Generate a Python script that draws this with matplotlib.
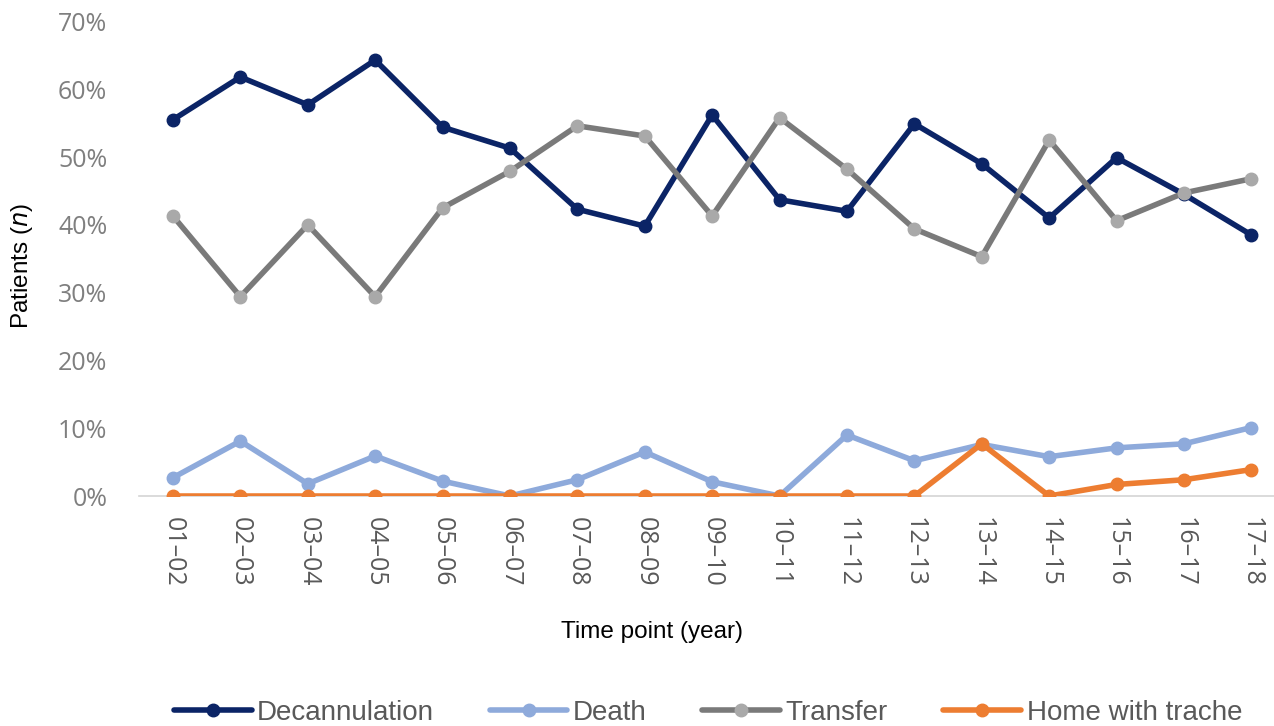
import matplotlib
matplotlib.use("Agg")
import matplotlib.pyplot as plt
from matplotlib.ticker import FuncFormatter

years = ["01–02", "02–03", "03–04", "04–05", "05–06", "06–07", "07–08", "08–09",
         "09–10", "10–11", "11–12", "12–13", "13–14", "14–15", "15–16", "16–17", "17–18"]

decannulation = [55.5, 61.8, 57.7, 64.3, 54.4, 51.3, 42.3, 39.8, 56.2, 43.7,
                 42.0, 54.9, 49.0, 41.0, 49.9, 44.5, 38.5]
death = [2.7, 8.1, 1.8, 5.9, 2.2, 0.0, 2.4, 6.5, 2.1, 0.0,
         9.0, 5.2, 7.6, 5.8, 7.1, 7.7, 10.1]
transfer = [41.3, 29.4, 40.0, 29.4, 42.5, 47.9, 54.6, 53.1, 41.3, 55.8,
            48.2, 39.4, 35.3, 52.5, 40.6, 44.7, 46.8]
home_trache = [0.0, 0.0, 0.0, 0.0, 0.0, 0.0, 0.0, 0.0, 0.0, 0.0,
               0.0, 0.0, 7.7, 0.0, 1.7, 2.4, 3.9]

y_ticks = [0, 10, 20, 30, 40, 50, 60, 70]

series = [
    ("Decannulation", decannulation, "#0b2466", "#0b2466"),
    ("Death", death, "#8eaadb", "#8eaadb"),
    ("Transfer", transfer, "#7a7a7a", "#a9a9a9"),
    ("Home with trache", home_trache, "#ed7d31", "#ed7d31"),
]

fig = plt.figure(figsize=(12.74, 7.26), dpi=100)
ax = fig.add_axes([0.1093, 0.3168, 0.8994, 0.6537])

x = list(range(len(years)))
for name, vals, lc, mc in series:
    ax.plot(x, vals, color=lc, lw=4.0, marker="o", ms=9.0,
            markerfacecolor=mc, markeredgecolor=mc, label=name,
            solid_joinstyle="round", solid_capstyle="round", zorder=3)

ax.set_xlim(-0.5, len(years) - 0.5)
ax.set_ylim(0, 70)
ax.set_yticks(y_ticks)
ax.yaxis.set_major_formatter(FuncFormatter(lambda v, _: f"{v:.0f}%"))
ax.set_xticks(x)
ax.set_xticklabels(years, rotation=270)

for s in ["top", "right", "left"]:
    ax.spines[s].set_visible(False)
ax.spines["bottom"].set_color("#d4d4d4")
ax.spines["bottom"].set_linewidth(1.2)
ax.spines["bottom"].set_zorder(1)

ax.tick_params(axis="y", length=0, pad=23, labelsize=18, labelcolor="#7f7f7f")
ax.tick_params(axis="x", length=0, pad=15, labelsize=18, labelcolor="#595959")
for lab in ax.get_yticklabels() + ax.get_xticklabels():
    lab.set_family(["Open Sans", "DejaVu Sans"])

fig.text(22 / 1274, 1 - 266 / 726, r"Patients ($\it{n}$)", rotation=90,
         ha="center", va="center", fontsize=17.5, family="Liberation Sans")
fig.text(652 / 1274, 1 - 632 / 726, "Time point (year)",
         ha="center", va="center", fontsize=17.5, family="Liberation Sans")

leg = fig.legend(loc="center", bbox_to_anchor=(708 / 1274, 1 - 713 / 726),
                 ncol=4, frameon=False, handlelength=2.8, handletextpad=0.2,
                 columnspacing=2.0,
                 prop={"family": ["Liberation Sans", "DejaVu Sans"], "size": 20})
for t in leg.get_texts():
    t.set_color("#595959")

fig.savefig("out.png", dpi=100)
